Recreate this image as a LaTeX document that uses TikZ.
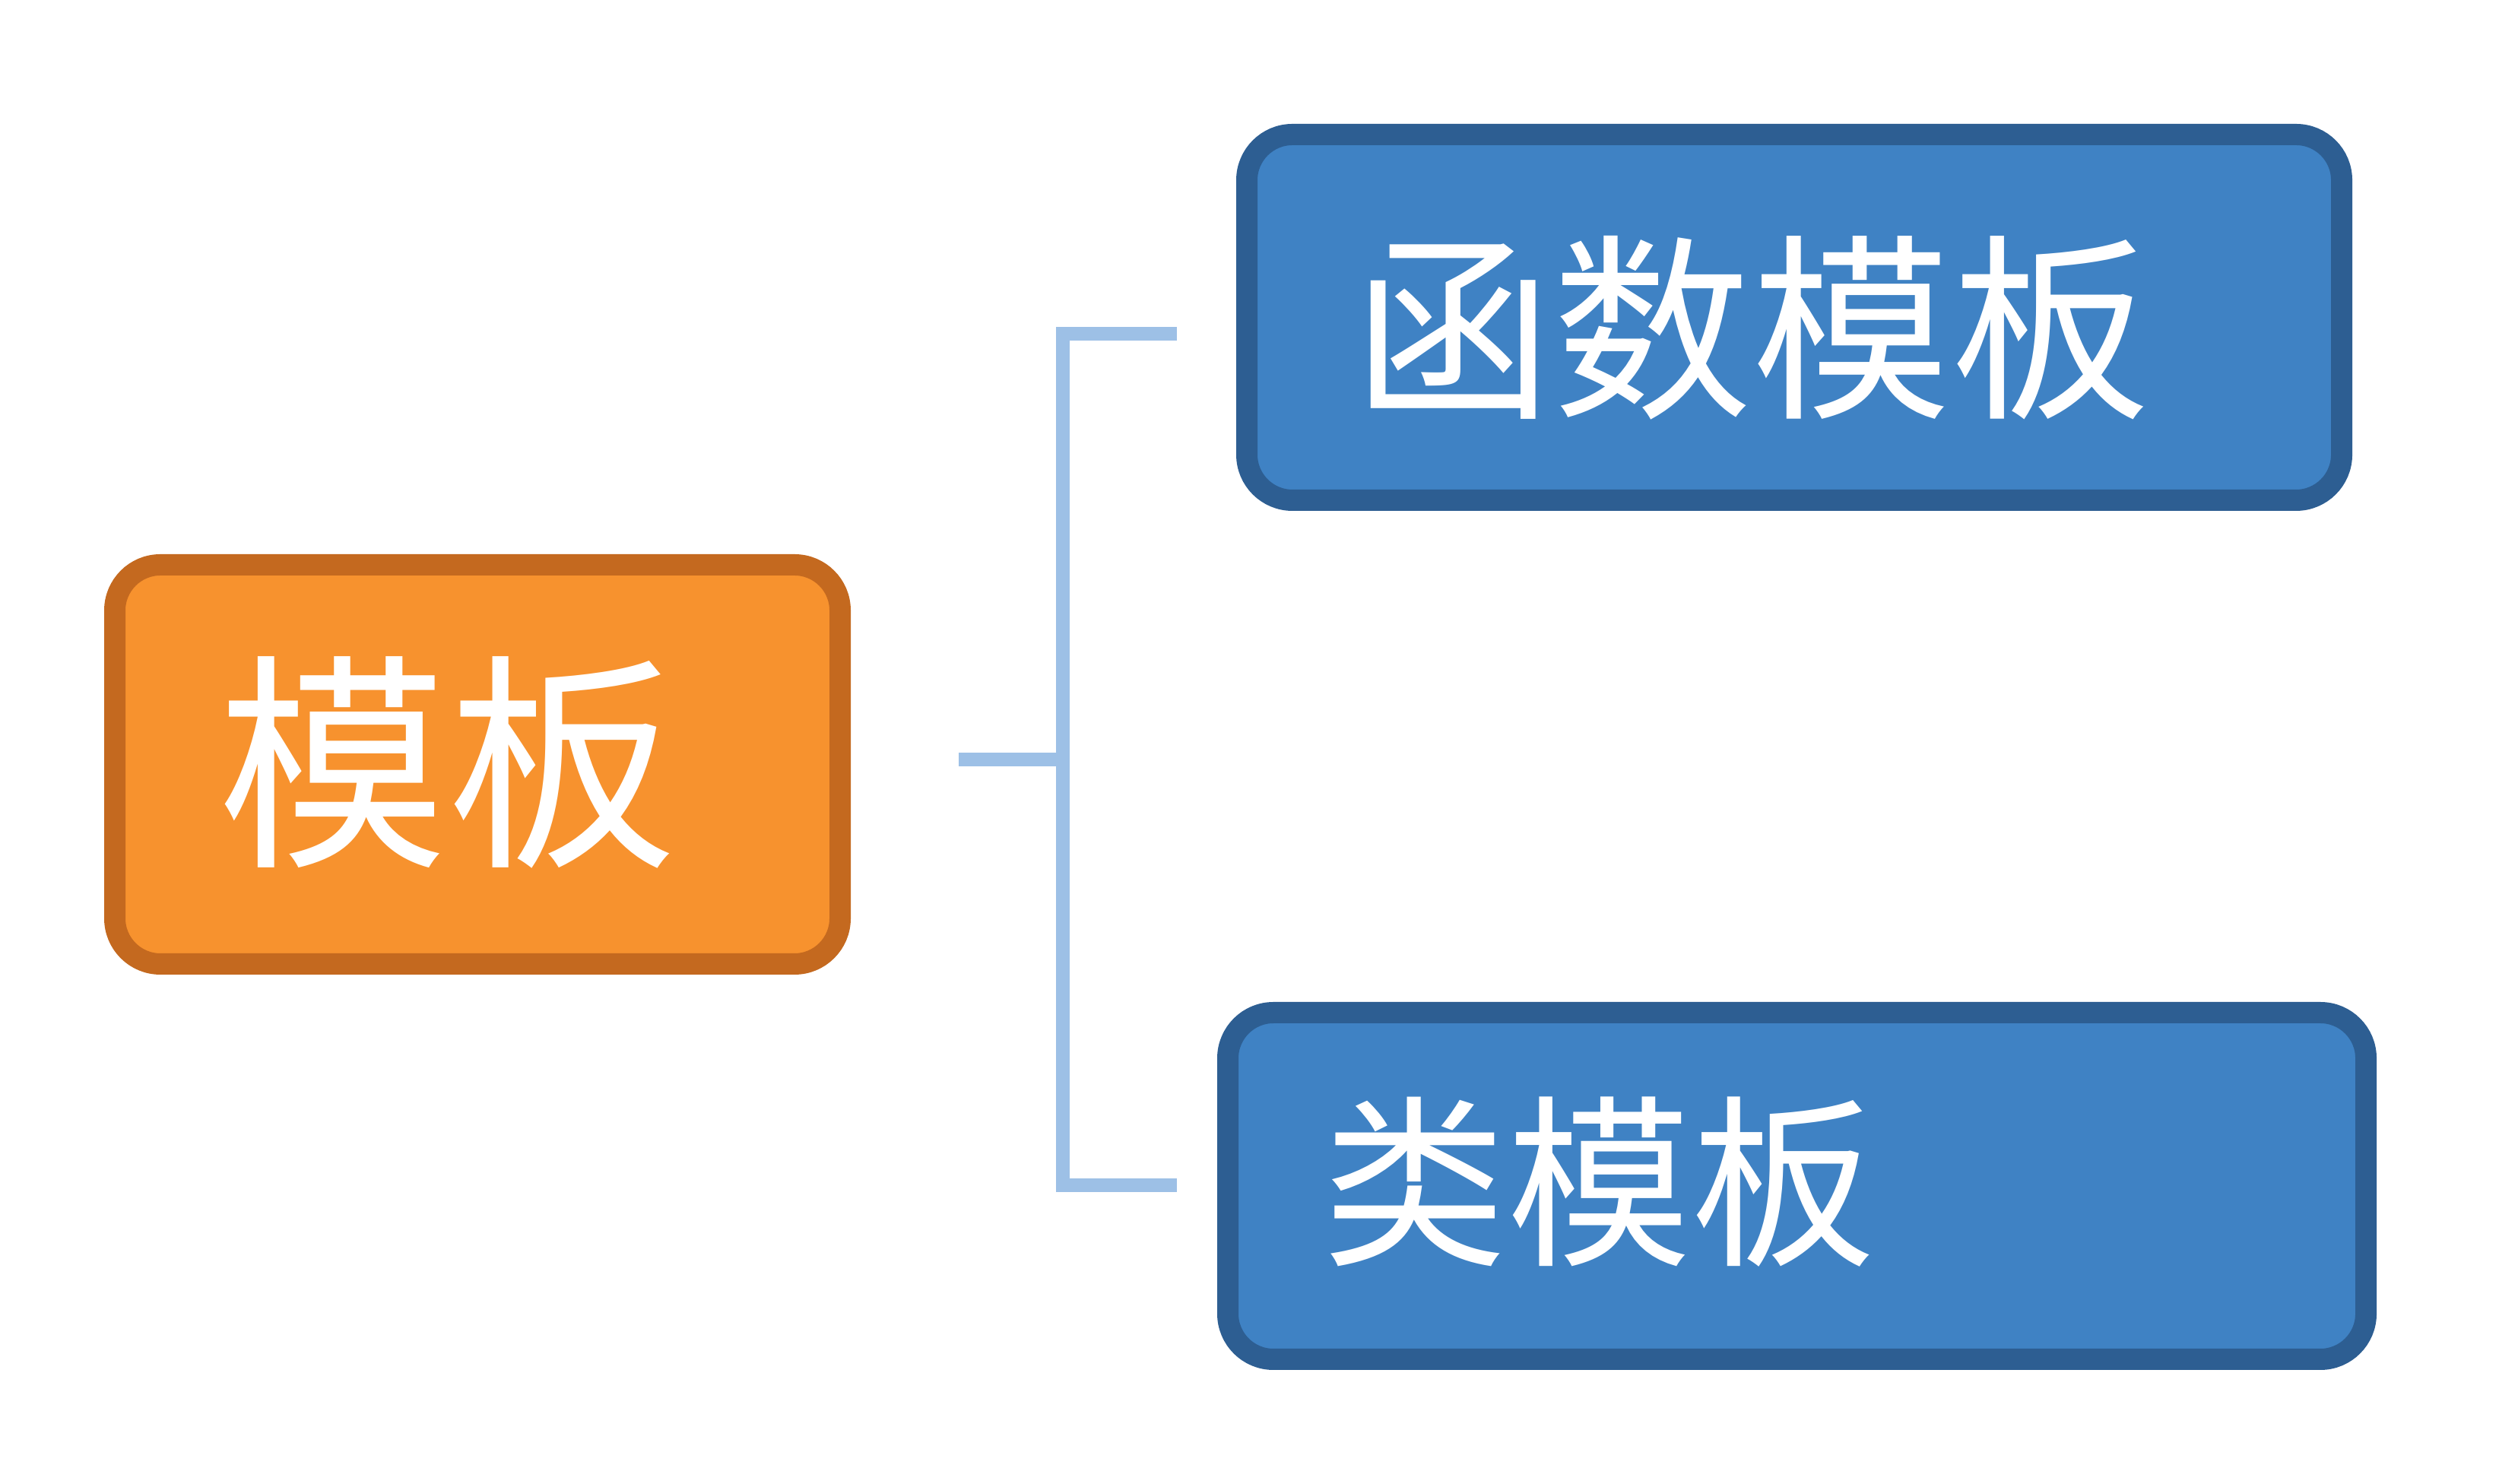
\documentclass[tikz,border=0pt]{standalone}
\usepackage{fontspec}
\newfontfamily\cjk{Noto Sans CJK SC}
\usetikzlibrary{calc}
\definecolor{orfill}{HTML}{F7922E}
\definecolor{ordraw}{HTML}{C4691F}
\definecolor{blfill}{HTML}{3F82C4}
\definecolor{bldraw}{HTML}{2D5E92}
\definecolor{connc}{HTML}{9DC0E6}
\tikzset{
  box/.style={rectangle, rounded corners=0.6cm, line width=0.28cm, inner sep=0pt},
  orbox/.style={box, fill=orfill, draw=ordraw},
  blbox/.style={box, fill=blfill, draw=bldraw},
  lbl/.style={anchor=west, inner sep=0pt, text=white},
  conn/.style={draw=connc, line width=0.18cm}
}
\begin{document}
\begin{tikzpicture}
\useasboundingbox[fill=white] (0,0) rectangle (33.12,19.52);
\node[orbox, minimum width=9.54cm, minimum height=5.25cm] (root) at (6.28,9.465) {};
\node[blbox, minimum width=14.40cm, minimum height=4.81cm] (fn) at (23.60,15.345) {};
\node[blbox, minimum width=14.97cm, minimum height=4.56cm] (cl) at (23.635,3.92) {};
\node[lbl, font=\cjk\fontsize{86}{86}\selectfont] (roott) at (2.86,9.49) {模板};
\node[lbl, font=\cjk\fontsize{74.5}{74.5}\selectfont] (fnt) at (17.80,15.21) {函数模板};
\node[lbl, font=\cjk\fontsize{69}{69}\selectfont] (clt) at (17.39,3.97) {类模板};
\coordinate (s) at (12.61,9.53);
\coordinate (jm) at (13.98,9.53);
\coordinate (jt) at (13.98,15.13);
\coordinate (jb) at (13.98,3.93);
\coordinate (et) at (15.48,15.13);
\coordinate (eb) at (15.48,3.93);
\draw[conn] (et) -- (jt) -- (jb) -- (eb);
\draw[conn] (s) -- (jm);
\end{tikzpicture}
\end{document}
